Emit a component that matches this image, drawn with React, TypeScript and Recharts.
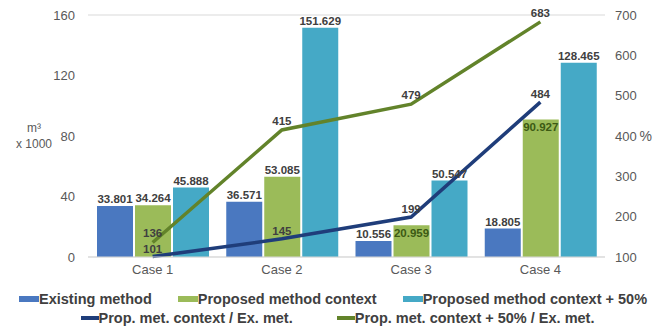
import React from 'react';
import { ComposedChart, Bar, Line, XAxis, YAxis, CartesianGrid, Legend, LabelList, Label } from 'recharts';

const cases = ['Case 1', 'Case 2', 'Case 3', 'Case 4'];
const existing = [33.801, 36.571, 10.556, 18.805];
const proposed = [34.264, 53.085, 20.959, 90.927];
const proposed50 = [45.888, 151.629, 50.547, 128.465];
const ratioProposed = [101, 145, 199, 484];
const ratioProposed50 = [136, 415, 479, 683];
const greenLabelInside = [false, false, true, true];

const leftTicks = [0, 40, 80, 120, 160];
const rightTicks = [100, 200, 300, 400, 500, 600, 700];

const COLORS = {
  existing: '#4a78c0',
  proposed: '#9bbb59',
  proposed50: '#45a9c6',
  ratio: '#1f3d7a',
  ratio50: '#62832a',
};

const FONT = '"Liberation Sans", Arial, sans-serif';
const LABEL_STYLE = { fontSize: 11.5, fontWeight: 700, fill: '#404040', fontFamily: FONT };

const data = cases.map((c, i) => ({
  name: c,
  existing: existing[i],
  proposed: proposed[i],
  proposed50: proposed50[i],
  ratio: ratioProposed[i],
  ratio50: ratioProposed50[i],
}));

const fmt = (v: any) => Number(v).toFixed(3);

function GreenLabel(props: any) {
  const { x, y, width, value, index } = props;
  const cx = x + width / 2;
  if (greenLabelInside[index]) {
    return (
      <text x={cx} y={y + 12} textAnchor="middle" style={{ ...LABEL_STYLE, fill: '#3c5a14' }}>
        {fmt(value)}
      </text>
    );
  }
  return (
    <text x={cx} y={y - 3} textAnchor="middle" style={LABEL_STYLE}>
      {fmt(value)}
    </text>
  );
}

function UnitLabel(props: any) {
  const vb = props.viewBox || { x: 0, y: 0, height: 0 };
  const cx = vb.x + 34;
  const cy = vb.y + vb.height / 2;
  return (
    <text textAnchor="middle" style={{ fontSize: 12, fill: '#595959', fontFamily: FONT }}>
      <tspan x={cx} y={cy - 4}>m³</tspan>
      <tspan x={cx} y={cy + 12}>x 1000</tspan>
    </text>
  );
}

const barItems = [
  { label: 'Existing method', color: COLORS.existing },
  { label: 'Proposed method context', color: COLORS.proposed },
  { label: 'Proposed method context + 50%', color: COLORS.proposed50 },
];
const lineItems = [
  { label: 'Prop. met. context / Ex. met.', color: COLORS.ratio },
  { label: 'Prop. met. context + 50% / Ex. met.', color: COLORS.ratio50 },
];

function ChartLegend() {
  const text = { fontSize: 14.5, fontWeight: 700, color: '#404040', fontFamily: FONT, whiteSpace: 'nowrap' as const };
  return (
    <div style={{ height: 48, paddingTop: 7, boxSizing: 'border-box' }}>
      <div style={{ display: 'flex', justifyContent: 'center', gap: 26, height: 19, alignItems: 'center', paddingLeft: 3 }}>
        {barItems.map(it => (
          <div key={it.label} style={{ display: 'flex', alignItems: 'center' }}>
            <span style={{ width: 20, height: 6, background: it.color, display: 'inline-block' }} />
            <span style={text}>{it.label}</span>
          </div>
        ))}
      </div>
      <div style={{ display: 'flex', justifyContent: 'center', gap: 44, height: 19, alignItems: 'center', paddingLeft: 12 }}>
        {lineItems.map(it => (
          <div key={it.label} style={{ display: 'flex', alignItems: 'center' }}>
            <span style={{ width: 18, height: 4, background: it.color, display: 'inline-block' }} />
            <span style={text}>{it.label}</span>
          </div>
        ))}
      </div>
    </div>
  );
}

export default function App() {
  return (
    <div style={{ position: 'absolute', left: 0, top: 0, width: 663, height: 330, background: '#fff', fontFamily: FONT }}>
      <ComposedChart
        width={663}
        height={330}
        data={data}
        margin={{ top: 15, right: 0, left: 0, bottom: 0 }}
        barGap={2}
      >
        <CartesianGrid vertical={false} stroke="#d9d9d9" />
        <XAxis
          dataKey="name"
          height={25}
          tickLine={false}
          axisLine={{ stroke: '#d9d9d9' }}
          tick={{ fontSize: 13, fill: '#595959', fontFamily: FONT }}
        />
        <YAxis
          yAxisId="left"
          width={88}
          domain={[0, 160]}
          ticks={leftTicks}
          tickLine={false}
          axisLine={false}
          tickMargin={7}
          tick={{ fontSize: 13, fill: '#595959', fontFamily: FONT }}
        >
          <Label content={<UnitLabel />} />
        </YAxis>
        <YAxis
          yAxisId="right"
          orientation="right"
          width={58}
          domain={[100, 700]}
          ticks={rightTicks}
          tickLine={false}
          axisLine={false}
          tickMargin={4}
          tick={{ fontSize: 13, fill: '#595959', fontFamily: FONT }}
        >
          <Label value="%" position="insideRight" offset={11} style={{ fontSize: 14, fill: '#595959', fontFamily: FONT }} />
        </YAxis>
        <Legend verticalAlign="bottom" content={<ChartLegend />} />
        <Bar yAxisId="left" dataKey="existing" barSize={36} fill={COLORS.existing} isAnimationActive={false}>
          <LabelList dataKey="existing" position="top" offset={3} formatter={fmt} style={LABEL_STYLE} />
        </Bar>
        <Bar yAxisId="left" dataKey="proposed" barSize={36} fill={COLORS.proposed} isAnimationActive={false}>
          <LabelList dataKey="proposed" content={<GreenLabel />} />
        </Bar>
        <Bar yAxisId="left" dataKey="proposed50" barSize={36} fill={COLORS.proposed50} isAnimationActive={false}>
          <LabelList dataKey="proposed50" position="top" offset={3} formatter={fmt} style={LABEL_STYLE} />
        </Bar>
        <Line yAxisId="right" dataKey="ratio" stroke={COLORS.ratio} strokeWidth={3.5} dot={false} isAnimationActive={false}>
          <LabelList dataKey="ratio" position="top" offset={4} style={LABEL_STYLE} />
        </Line>
        <Line yAxisId="right" dataKey="ratio50" stroke={COLORS.ratio50} strokeWidth={3.5} dot={false} isAnimationActive={false}>
          <LabelList dataKey="ratio50" position="top" offset={5} style={LABEL_STYLE} />
        </Line>
      </ComposedChart>
    </div>
  );
}
